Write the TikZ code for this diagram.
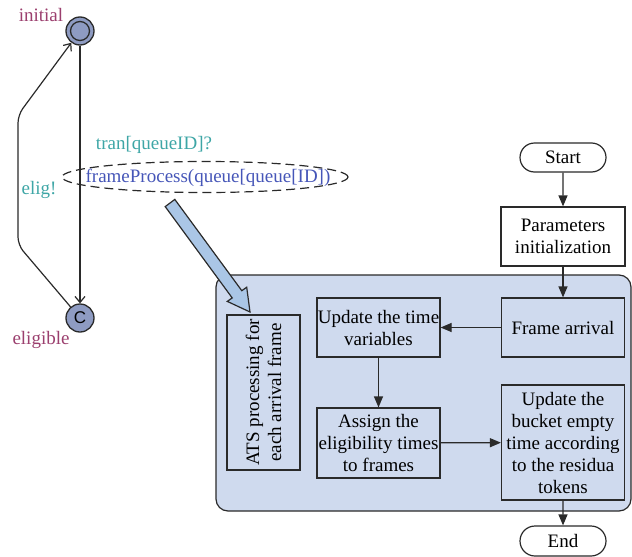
\documentclass[tikz,border=0pt]{standalone}
\usepackage{fontspec}
\setmainfont{Liberation Serif}
\setsansfont{Liberation Sans}
\usetikzlibrary{arrows.meta,shapes.geometric,shapes.misc}
\definecolor{purp}{HTML}{9B3F6E}
\definecolor{teal2}{HTML}{3EA6A6}
\definecolor{blu}{HTML}{4656B8}
\definecolor{stfill}{HTML}{8E9BC2}
\definecolor{contfill}{HTML}{CFDAEE}
\definecolor{arrfill}{HTML}{AAC6E6}
\definecolor{edge}{HTML}{2A2A2A}
\tikzset{
  txt/.style={font=\fontsize{19}{22}\selectfont, inner sep=0pt},
  state/.style={circle, draw=edge, fill=stfill, line width=1.3pt, minimum size=28pt, inner sep=0pt},
  box/.style={draw=edge, line width=1.2pt, align=center, inner sep=0pt, font=\fontsize{19}{22}\selectfont},
  term/.style={rounded rectangle, draw=edge, line width=1.2pt, fill=white, inner sep=0pt, font=\fontsize{19}{22}\selectfont},
  flow/.style={-{Triangle[length=11pt,width=9pt]}, line width=1.2pt, draw=edge},
  ta/.style={-{Straight Barb[length=6pt,width=10pt]}, line width=1.2pt, draw=edge},
}
\begin{document}
\begin{tikzpicture}[x=1pt,y=-1pt]
\useasboundingbox (0,0) rectangle (632,557);
% left automaton
\node[state] (init) at (80,31) {};
\draw[edge, line width=1.3pt] (init.center) circle (9.5);
\node[state, font=\sffamily\fontsize{17}{17}\selectfont] (elig) at (80,318) {C};
\node[txt, text=purp] (linit) at (41,15) {initial};
\node[txt, text=purp] (lelig) at (41,340) {eligible};
\node[txt, text=teal2] (lsend) at (39,190) {elig!};
\coordinate (c1) at (18,245);
\coordinate (c2) at (18,115);
\draw[ta] (init) -- (elig);
\draw[ta, rounded corners=8pt] (elig) -- (c1) -- (c2) -- (init);
\node[txt, text=teal2] (lrecv) at (154,145) {tran[queueID]?};
\node[ellipse, draw=edge, dashed, dash pattern=on 9pt off 5pt, line width=1.2pt, minimum width=286pt, minimum height=31pt, inner sep=0pt] (fp) at (205,177) {};
\node[txt, text=blu] (fptxt) at (208,178) {frameProcess(queue[queue[ID])};
% container
\node[draw=edge, fill=contfill, line width=1.2pt, rounded corners=12pt, minimum width=415pt, minimum height=236pt, inner sep=0pt] (cont) at (423.5,393) {};
% big arrow
\draw[edge, fill=arrfill, line width=1.2pt, line join=miter]
  (174.8,199.4) -- (241.8,290.7) -- (246.7,287.2) -- (250,312) -- (227.3,301.4) -- (232.2,297.9) -- (165.2,206.6) -- cycle;
% flowchart
\node[term, minimum width=86pt, minimum height=29pt] (start) at (563,157.5) {Start};
\node[box, fill=white, minimum width=124pt, minimum height=59pt] (params) at (563,236.5) {Parameters\\initialization};
\node[box, minimum width=123pt, minimum height=59pt] (frame) at (563,327.5) {Frame arrival};
\node[box, minimum width=123pt, minimum height=59pt] (upd) at (378.5,327.5) {Update the time\\variables};
\node[box, minimum width=123pt, minimum height=70pt] (assign) at (378.5,443) {Assign the\\eligibility times\\to frames};
\node[box, minimum width=123pt, minimum height=115pt] (bucket) at (563,442.5) {Update the\\bucket empty\\time according\\to the residua\\tokens};
\node[box, minimum width=73pt, minimum height=155pt] (ats) at (263.5,392.5) {};
\node[txt, align=center, rotate=90] (atstxt) at (263.5,392.5) {ATS processing for\\each arrival frame};
\node[term, minimum width=86pt, minimum height=30pt] (end) at (563,541) {End};
\draw[flow] (start) -- (params);
\draw[flow] (params) -- (frame);
\draw[flow] (frame) -- (upd);
\draw[flow] (upd) -- (assign);
\draw[flow] (assign) -- (bucket);
\draw[flow] (bucket) -- (end);
\end{tikzpicture}
\end{document}
